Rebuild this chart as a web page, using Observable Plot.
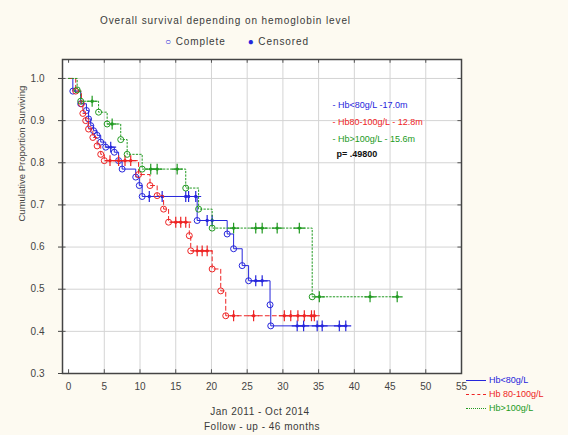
<!DOCTYPE html>
<html>
<head>
<meta charset="utf-8">
<script src="https://cdn.jsdelivr.net/npm/d3@7"></script>
<script src="https://cdn.jsdelivr.net/npm/@observablehq/plot@0.6"></script>
<style>
  html, body { margin: 0; padding: 0; background: #fdfaf1; }
  #wrap { position: relative; width: 568px; height: 435px; font-family: "Liberation Sans", Arial, sans-serif; color: #3a3a3a; }
  #wrap svg.plot { position: absolute; left: 0; top: 0; }
  .t { position: absolute; white-space: nowrap; line-height: 1; }
  .sw { display: inline-block; width: 20px; height: 0; vertical-align: middle; margin-right: 3px; }
</style>
</head>
<body>
<div id="wrap"></div>
<script>
// Kaplan–Meier survival by hemoglobin group (time in months)
const groupNames = ["Hb<80g/L", "Hb 80-100g/L", "Hb>100g/L"];
const groupColors = ["#2626dc", "#ee2424", "#229a22"];
const groupDash = [null, "4,3", "1.5,2"];
const medianLabels = ["- Hb<80g/L -17.0m", "- Hb80-100g/L - 12.8m", "- Hb>100g/L - 15.6m"];
const pLabel = "p= .49800";

// Hb < 80 g/L
const lowEventTime = [0.6, 1.7, 2.5, 2.8, 3.1, 3.5, 4.0, 4.5, 5.2, 6.4, 7.0, 7.5, 9.4, 9.9, 10.3, 18.0, 22.2, 23.1, 24.3, 25.2, 28.2, 28.3];
const lowEventSurv = [0.97, 0.94, 0.924, 0.904, 0.888, 0.876, 0.865, 0.849, 0.837, 0.825, 0.805, 0.785, 0.766, 0.746, 0.72, 0.663, 0.631, 0.596, 0.556, 0.52, 0.463, 0.413];
const lowCensTime = [5.9, 11.3, 13.1, 16.4, 16.8, 17.8, 19.4, 20.1, 26.2, 27.1, 32.0, 32.9, 34.8, 35.5, 37.9, 38.8];

// Hb 80–100 g/L
const midEventTime = [1.0, 1.8, 2.0, 2.4, 2.8, 3.4, 4.0, 4.5, 5.0, 9.8, 11.4, 12.4, 13.3, 14.0, 16.9, 17.1, 20.1, 21.3, 22.0];
const midEventSurv = [0.97, 0.94, 0.917, 0.9, 0.88, 0.86, 0.84, 0.82, 0.805, 0.772, 0.746, 0.722, 0.69, 0.659, 0.627, 0.591, 0.548, 0.496, 0.437];
const midCensTime = [5.8, 7.0, 7.9, 8.7, 15.0, 15.7, 16.4, 18.0, 18.7, 19.4, 23.1, 25.9, 30.2, 31.1, 32.1, 33.0, 34.0, 34.4];

// Hb > 100 g/L
const highEventTime = [1.2, 1.7, 4.2, 5.4, 7.3, 8.2, 10.3, 16.4, 18.2, 20.1, 34.1];
const highEventSurv = [0.973, 0.946, 0.92, 0.892, 0.855, 0.82, 0.785, 0.74, 0.69, 0.645, 0.482];
const highCensTime = [3.3, 6.1, 11.5, 12.4, 15.2, 23.1, 26.2, 27.1, 29.2, 32.3, 35.1, 42.2, 46.0];

const xTicks = [0, 5, 10, 15, 20, 25, 30, 35, 40, 45, 50, 55];
const yTicks = [0.3, 0.4, 0.5, 0.6, 0.7, 0.8, 0.9, 1.0];

// Build step line, event and censoring tables for one group
function km(g, evT, evS, cenT) {
  const survAt = t => { let s = 1; evT.forEach((e, i) => { if (e <= t) s = evS[i]; }); return s; };
  const end = Math.max(evT[evT.length - 1], cenT[cenT.length - 1]);
  const steps = [{t: 0, s: 1, g}, ...evT.map((t, i) => ({t, s: evS[i], g})), {t: end, s: survAt(end), g}];
  const events = evT.map((t, i) => ({t, s: evS[i], g}));
  const cens = cenT.map(t => ({t, s: survAt(t), g}));
  return {steps, events, cens};
}
const curves = [
  km(0, lowEventTime, lowEventSurv, lowCensTime),
  km(1, midEventTime, midEventSurv, midCensTime),
  km(2, highEventTime, highEventSurv, highCensTime)
];

const xDom = [-0.85, 55];
const yDom = [0.3, 1.045];

const curveMarks = curves.flatMap((c, i) => [
  Plot.line(c.steps, {x: "t", y: "s", curve: "step-after", stroke: groupColors[i], strokeWidth: 1, strokeDasharray: groupDash[i]}),
  Plot.dot(c.events, {x: "t", y: "s", r: 3, stroke: groupColors[i], strokeWidth: 1, fill: "white", fillOpacity: 0.01}),
  Plot.dot(c.cens, {x: "t", y: "s", symbol: "plus", r: 3.6, stroke: groupColors[i], strokeWidth: 1.2}),
  Plot.dot(c.cens, {x: "t", y: "s", r: 1.7, fill: groupColors[i]})
]);

// median survival notes and log-rank p inside the frame
const noteMarks = medianLabels.map((label, i) =>
  Plot.text([label], {frameAnchor: "top-left", dx: 270, dy: 42 + i * 17, fill: groupColors[i], textAnchor: "start", fontSize: 9, letterSpacing: "0.4px"})
);

const chart = Plot.plot({
  width: 568,
  height: 435,
  marginLeft: 62,
  marginRight: 107,
  marginTop: 59,
  marginBottom: 62,
  style: {background: "transparent", fontFamily: "'Liberation Sans', Arial, sans-serif", fontSize: "10px", color: "#444"},
  x: {domain: xDom},
  y: {domain: yDom},
  marks: [
    Plot.frame({fill: "white", stroke: null}),
    Plot.ruleX(xTicks.slice(1, -1), {stroke: "#d4d4d4", strokeWidth: 1}),
    Plot.ruleY(yTicks.slice(1), {stroke: "#d4d4d4", strokeWidth: 1}),
    // inward tick marks on all four sides
    Plot.ruleX(xTicks, {y1: yDom[0], y2: yDom[0] + 0.009, stroke: "#555"}),
    Plot.ruleX(xTicks, {y1: yDom[1], y2: yDom[1] - 0.009, stroke: "#555"}),
    Plot.ruleY(yTicks, {x1: xDom[1], x2: xDom[1] - 0.5, stroke: "#555"}),
    Plot.ruleY(yTicks, {x1: xDom[0], x2: xDom[0] + 0.5, stroke: "#555"}),
    Plot.axisX({ticks: xTicks, tickSize: 0, tickPadding: 9, label: null, tickFormat: d => d}),
    Plot.axisY({ticks: yTicks, tickSize: 4, tickPadding: 14, label: null, tickFormat: d3.format(".1f")}),
    Plot.text(["Cumulative Proportion Surviving"], {frameAnchor: "left", rotate: -90, dx: -41, dy: 5, fontSize: 9.5, fill: "#444"}),
    ...curveMarks,
    ...noteMarks,
    Plot.text([pLabel], {frameAnchor: "top-left", dx: 274, dy: 91, fill: "#111", fontWeight: "bold", textAnchor: "start", fontSize: 9}),
    Plot.frame({stroke: "#444", strokeWidth: 1.5})
  ]
});
chart.classList.add("plot");

const wrap = document.getElementById("wrap");
wrap.appendChild(chart);

function addText(html, style) {
  const d = document.createElement("div");
  d.className = "t";
  d.innerHTML = html;
  Object.assign(d.style, style);
  wrap.appendChild(d);
  return d;
}

// title and marker key
addText("Overall survival depending on hemoglobin level", {left: "100px", top: "16px", fontSize: "10px", letterSpacing: "0.9px"});
addText(`<span style="color:${groupColors[0]};font-size:10px">○</span> Complete &nbsp;&nbsp;&nbsp;&nbsp; <span style="color:${groupColors[0]};font-size:10px">●</span> Censored`,
  {left: "165px", top: "37px", fontSize: "10px", letterSpacing: "0.9px"});

// caption under the x axis
addText("Jan 2011 - Oct 2014", {left: "260px", top: "407px", fontSize: "10px", letterSpacing: "0.5px", transform: "translateX(-50%)"});
addText("Follow - up - 46 months", {left: "262px", top: "422px", fontSize: "10px", letterSpacing: "0.5px", transform: "translateX(-50%)"});

// line-style key on the right
const borders = ["1.5px solid", "1.5px dashed", "1.5px dotted"];
groupNames.forEach((name, i) => {
  addText(`<span class="sw" style="border-top:${borders[i]} ${groupColors[i]}"></span>${name.replace("<", "&lt;").replace(">", "&gt;")}`,
    {left: "466px", top: `${376 + i * 14}px`, fontSize: "9px", color: groupColors[i]});
});
</script>
</body>
</html>
